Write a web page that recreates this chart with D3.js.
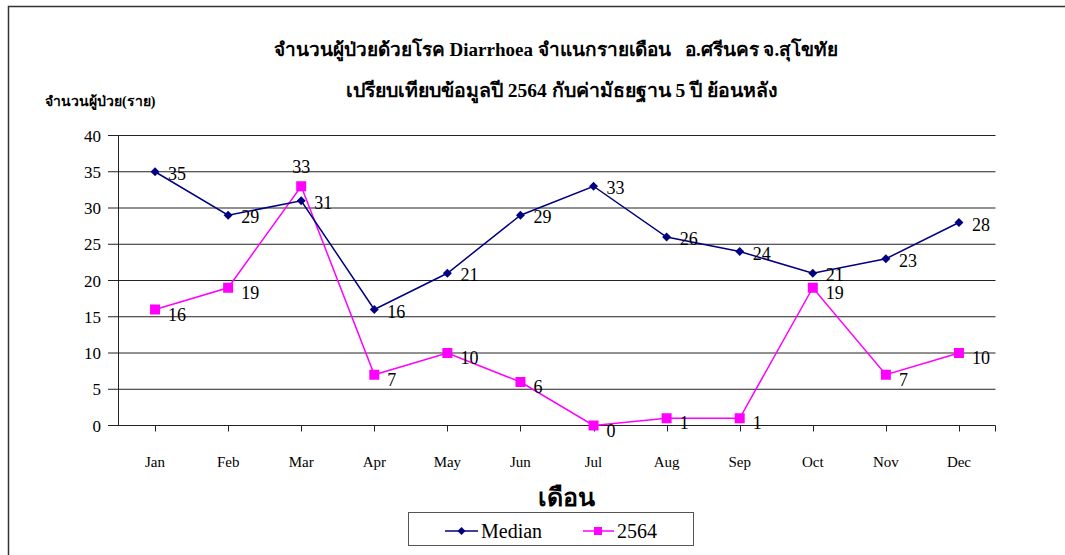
<!DOCTYPE html>
<html>
<head>
<meta charset="utf-8">
<script src="https://cdn.jsdelivr.net/npm/d3@7"></script>
<style>
  html, body { margin: 0; padding: 0; background: #fff; }
  svg { display: block; }
  text { white-space: pre; }
</style>
</head>
<body>
<svg id="chart" width="1065" height="555"></svg>
<script>
const months = ["Jan","Feb","Mar","Apr","May","Jun","Jul","Aug","Sep","Oct","Nov","Dec"];
const medianValues = [35,29,31,16,21,29,33,26,24,21,23,28];
const y2564Values = [16,19,33,7,10,6,0,1,1,19,7,10];
const yTicks = [0,5,10,15,20,25,30,35,40];
const titleLine1 = "จำนวนผู้ป่วยด้วยโรค Diarrhoea จำแนกรายเดือน   อ.ศรีนคร จ.สุโขทัย";
const titleLine2 = "เปรียบเทียบข้อมูลปี 2564 กับค่ามัธยฐาน 5 ปี ย้อนหลัง";
const yTitle = "จำนวนผู้ป่วย(ราย)";
const xTitle = "เดือน";
const seriesNames = ["Median","2564"];

const serif = "'Liberation Serif','DejaVu Serif','Noto Sans',serif";
const svg = d3.select("#chart");

// outer border
svg.append("path").attr("d","M8.5,555 L8.5,6.5 L1065,6.5").attr("fill","none").attr("stroke","#333").attr("stroke-width",1.5);

const x = d3.scaleBand().domain(months).range([118.5, 995.5]);
const y = d3.scaleLinear().domain([0,40]).range([425.5, 135.5]);

// gridlines
svg.append("g").selectAll("line").data(yTicks).join("line")
  .attr("x1",108).attr("x2",995.5)
  .attr("y1",d=>y(d)).attr("y2",d=>y(d))
  .attr("stroke","#222").attr("stroke-width",1);

// y axis line
svg.append("line").attr("x1",118.5).attr("x2",118.5).attr("y1",y(40)).attr("y2",y(0)).attr("stroke","#222");

// x axis ticks
const cx = d => x(d) + x.bandwidth()/2;
svg.append("g").selectAll("line").data(months).join("line")
  .attr("x1",d=>Math.round(cx(d))+0.5).attr("x2",d=>Math.round(cx(d))+0.5)
  .attr("y1",y(0)).attr("y2",y(0)+6).attr("stroke","#222");
svg.append("line").attr("x1",995.5).attr("x2",995.5).attr("y1",y(0)).attr("y2",y(0)+6).attr("stroke","#222");

// y tick labels
svg.append("g").selectAll("text").data(yTicks).join("text")
  .attr("x",101).attr("y",d=>y(d)+6)
  .attr("text-anchor","end").attr("font-family",serif).attr("font-size",17)
  .text(d=>d);

// x tick labels
svg.append("g").selectAll("text").data(months).join("text")
  .attr("x",d=>cx(d)).attr("y",467)
  .attr("text-anchor","middle").attr("font-family",serif).attr("font-size",15)
  .text(d=>d);

// titles
svg.append("text").attr("x",556).attr("y",56).attr("text-anchor","middle")
  .attr("font-family",serif).attr("font-weight","bold").attr("font-size",19).text(titleLine1);
svg.append("text").attr("x",562).attr("y",97).attr("text-anchor","middle")
  .attr("font-family",serif).attr("font-weight","bold").attr("font-size",19.5).text(titleLine2);
svg.append("text").attr("x",45).attr("y",106).attr("text-anchor","start")
  .attr("font-family",serif).attr("font-weight","bold").attr("font-size",14).text(yTitle);
svg.append("text").attr("x",566).attr("y",506).attr("text-anchor","middle")
  .attr("font-family",serif).attr("font-weight","bold").attr("font-size",25).text(xTitle);

const line = d3.line().x((d,i)=>cx(months[i])).y(d=>y(d));
const navy = "#000080", mag = "#FF00FF";

// 2564 series
svg.append("path").datum(y2564Values).attr("d",line).attr("fill","none").attr("stroke",mag).attr("stroke-width",1.5);
// median series
svg.append("path").datum(medianValues).attr("d",line).attr("fill","none").attr("stroke",navy).attr("stroke-width",1.5);

svg.append("g").selectAll("path").data(medianValues).join("path")
  .attr("d",d3.symbol().type(d3.symbolSquare).size(40))
  .attr("transform",(d,i)=>`translate(${cx(months[i])},${y(d)}) rotate(45)`)
  .attr("fill",navy);
svg.append("g").selectAll("rect").data(y2564Values).join("rect")
  .attr("x",(d,i)=>cx(months[i])-5).attr("y",d=>y(d)-5).attr("width",10).attr("height",10)
  .attr("fill",mag);

// data labels
svg.append("g").selectAll("text").data(medianValues).join("text")
  .attr("x",(d,i)=>cx(months[i])+13).attr("y",d=>y(d)+8)
  .attr("font-family",serif).attr("font-size",18).text(d=>d);
svg.append("g").selectAll("text").data(y2564Values).join("text")
  .attr("x",(d,i)=> i===2 ? cx(months[i]) : cx(months[i])+13)
  .attr("y",(d,i)=> i===2 ? y(d)-13 : y(d)+11)
  .attr("text-anchor",(d,i)=> i===2 ? "middle" : "start")
  .attr("font-family",serif).attr("font-size",18).text(d=>d);

// legend
const lg = svg.append("g");
lg.append("rect").attr("x",408.5).attr("y",512.5).attr("width",285).attr("height",33)
  .attr("fill","#fff").attr("stroke","#555").attr("stroke-width",1);
lg.append("line").attr("x1",445).attr("x2",478).attr("y1",531).attr("y2",531).attr("stroke",navy).attr("stroke-width",1.5);
lg.append("path").attr("d",d3.symbol().type(d3.symbolSquare).size(32)).attr("transform","translate(461.5,531) rotate(45)").attr("fill",navy);
lg.append("text").attr("x",481).attr("y",538).attr("font-family",serif).attr("font-size",20).text(seriesNames[0]);
lg.append("line").attr("x1",583).attr("x2",614).attr("y1",531).attr("y2",531).attr("stroke",mag).attr("stroke-width",1.5);
lg.append("rect").attr("x",594).attr("y",527).attr("width",8).attr("height",8).attr("fill",mag);
lg.append("text").attr("x",617).attr("y",538).attr("font-family",serif).attr("font-size",20).text(seriesNames[1]);
</script>
</body>
</html>
